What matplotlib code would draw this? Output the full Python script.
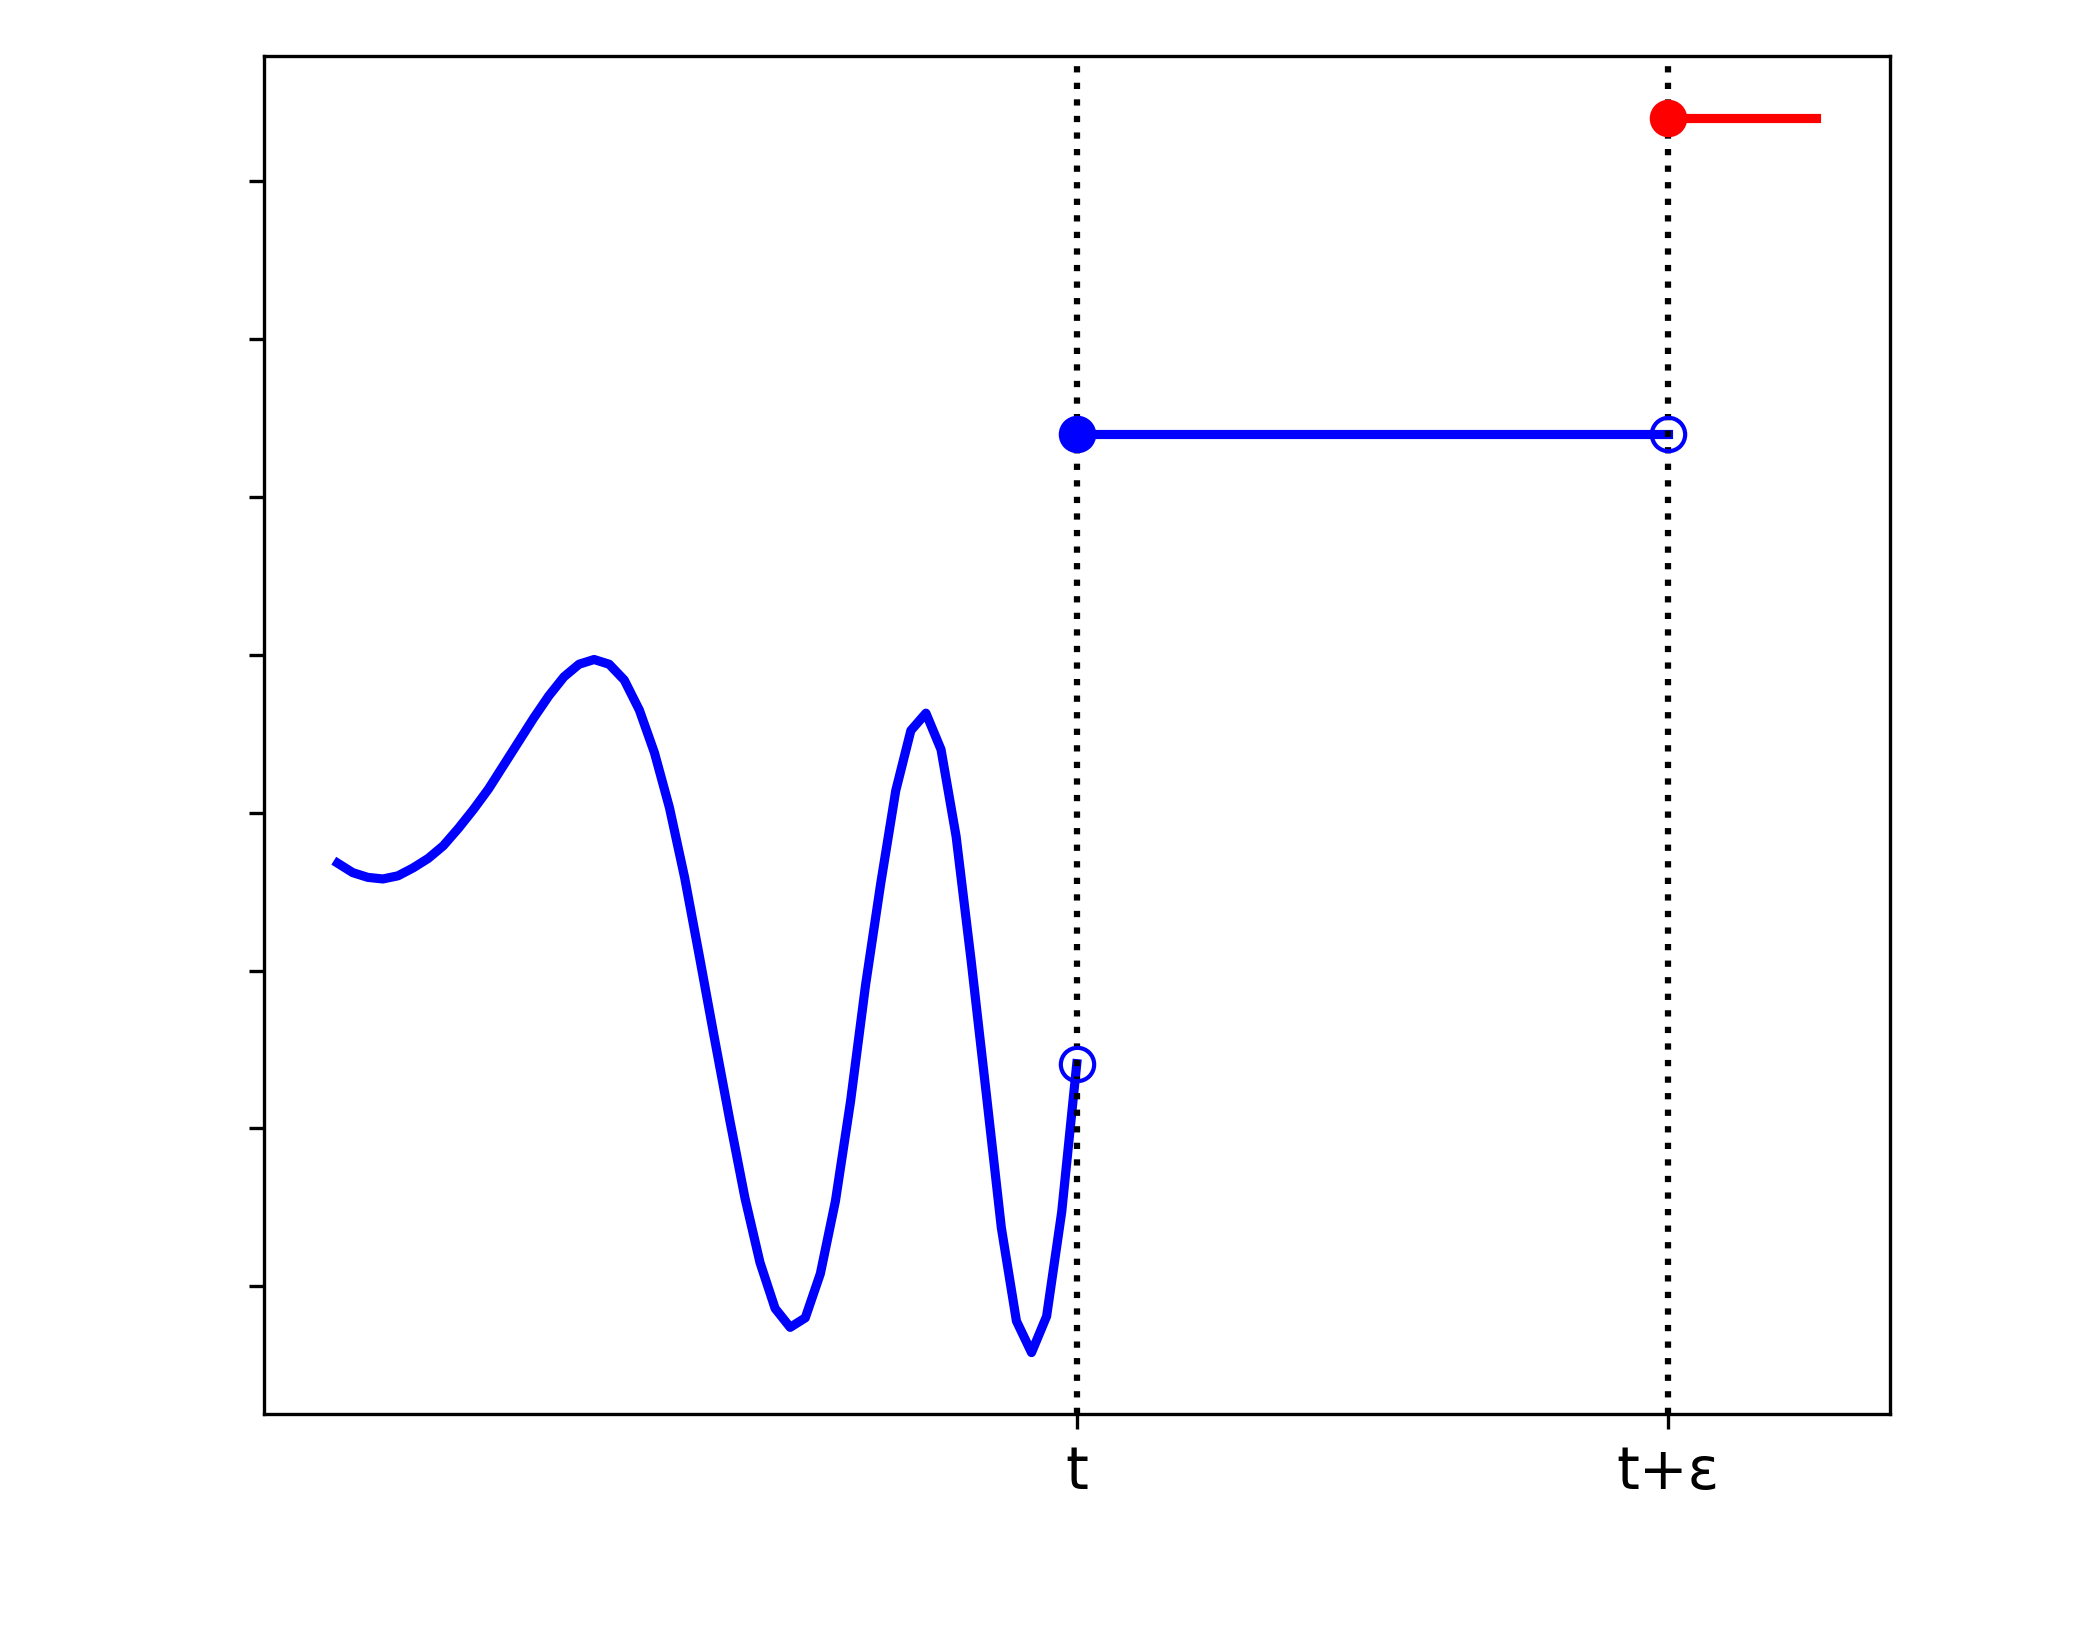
import numpy as np
import matplotlib
matplotlib.use("Agg")
import matplotlib.pyplot as plt

# time points
t = 1.0
t_eps = 1.8
x_end = 2.0

curve_y = [-0.32, -0.38, -0.41, -0.42, -0.40, -0.35, -0.29, -0.21, -0.10, 0.02,
           0.15, 0.30, 0.45, 0.60, 0.74, 0.86, 0.94, 0.97, 0.94, 0.84,
           0.65, 0.38, 0.03, -0.41, -0.92, -1.44, -1.95, -2.44, -2.85, -3.14,
           -3.26, -3.20, -2.92, -2.46, -1.83, -1.09, -0.45, 0.14, 0.52, 0.63,
           0.40, -0.15, -0.94, -1.78, -2.63, -3.22, -3.42, -3.19, -2.53, -1.59]
curve_x = np.linspace(0, t, len(curve_y))

level_mid = 2.4
level_top = 4.4

ytick_vals = [-3, -2, -1, 0, 1, 2, 3, 4]
xtick_labels = ["t", "t+ε"]

fig = plt.figure(figsize=(7, 5.4667), dpi=300)
ax = fig.add_axes([0.1256, 0.1376, 0.7743, 0.8281])

ax.plot(curve_x, curve_y, color="blue", lw=2.2)
ax.plot([t, t_eps], [level_mid, level_mid], color="blue", lw=2.2)
ax.plot([t_eps, x_end], [level_top, level_top], color="red", lw=2.2)

ax.axvline(t, color="black", ls=":", lw=1.5)
ax.axvline(t_eps, color="black", ls=":", lw=1.5)

ax.plot(t, curve_y[-1], "o", mfc="none", mec="blue", ms=8)
ax.plot(t, level_mid, "o", color="blue", ms=8)
ax.plot(t_eps, level_mid, "o", mfc="none", mec="blue", ms=8)
ax.plot(t_eps, level_top, "o", color="red", ms=8)

ax.set_xticks([t, t_eps])
ax.set_xticklabels(xtick_labels, fontsize=14)
ax.set_yticks(ytick_vals)
ax.set_yticklabels([])

fig.savefig("out.png", dpi=300)
